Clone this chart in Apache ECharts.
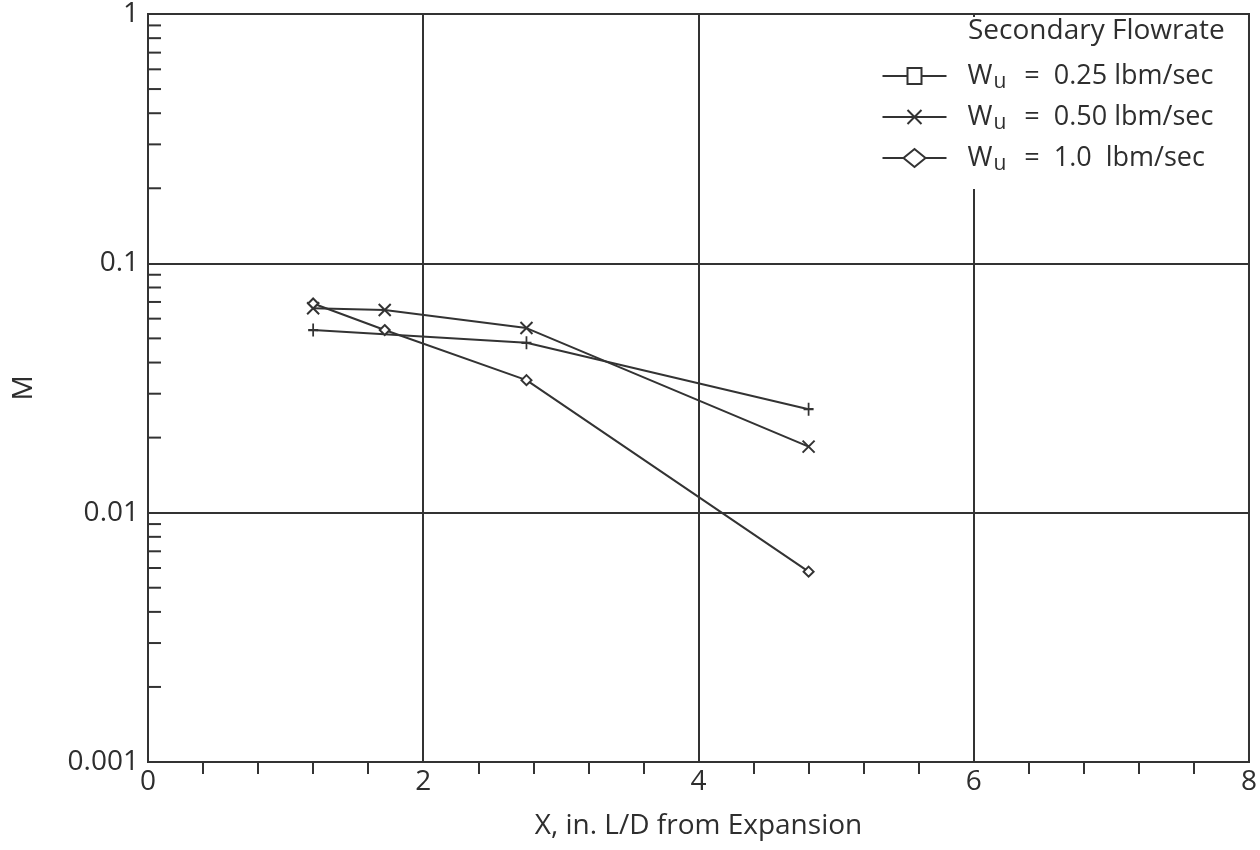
<!DOCTYPE html>
<html>
<head>
<meta charset="utf-8">
<script src="https://cdn.jsdelivr.net/npm/echarts@6/dist/echarts.min.js"></script>
<style>
html,body{margin:0;padding:0;background:#fff;}
#chart{width:1260px;height:850px;}
</style>
</head>
<body>
<div id="chart"></div>
<script>
// ---- data ----
var seriesNames = ['W_u = 0.25 lbm/sec', 'W_u = 0.50 lbm/sec', 'W_u = 1.0 lbm/sec'];
var legendValues = ['0.25', '0.50', '1.0 '];
var xW025 = [1.2, 2.75, 4.8];
var yW025 = [0.054, 0.048, 0.026];
var xW050 = [1.2, 1.72, 2.75, 4.8];
var yW050 = [0.066, 0.065, 0.055, 0.0184];
var xW100 = [1.2, 1.72, 2.75, 4.8];
var yW100 = [0.069, 0.054, 0.034, 0.0058];
var xTickLabels = ['0', '2', '4', '6', '8'];
var yTickLabels = ['0.001', '0.01', '0.1', '1'];
var yMinorTicks = [0.002,0.003,0.004,0.005,0.006,0.007,0.008,0.009,
                   0.02,0.03,0.04,0.05,0.06,0.07,0.08,0.09,
                   0.2,0.3,0.4,0.5,0.6,0.7,0.8,0.9];

function pairs(xs, ys){ return xs.map(function(x,i){ return [x, ys[i]]; }); }

var INK = '#333333';
var TXT = '#2e2e2e';
var FONT = 'Open Sans';

var chart = echarts.init(document.getElementById('chart'), null, {renderer:'canvas'});

var symPlus = 'path://M5,0 L5,12 M0,6 L10,6';
var symX = 'path://M0,0 L12,12 M12,0 L0,12';

var option = {
  backgroundColor: '#ffffff',
  animation: false,
  textStyle: {fontFamily: FONT, color: TXT},
  title: {
    text: 'Secondary Flowrate',
    left: 963, top: 12, z: 10,
    textStyle: {fontFamily: FONT, fontSize: 28, fontWeight: 'normal', color: TXT}
  },
  legend: {
    orient: 'vertical',
    left: 870, top: 17,
    padding: [41, 12, 14, 10],
    backgroundColor: '#ffffff',
    itemWidth: 64, itemHeight: 18, itemGap: 6,
    z: 5,
    data: [
      {name: seriesNames[0], icon: 'path://M0,9 L25,9 M25,1 L39,1 L39,17 L25,17 Z M39,9 L64,9 M0,0 L0,0 M0,18 L0,18',
       itemStyle: {color: 'none', borderColor: INK, borderWidth: 2}},
      {name: seriesNames[1], icon: 'path://M0,9 L64,9 M25,2 L39,16 M39,2 L25,16 M0,0 L0,0 M0,18 L0,18',
       itemStyle: {color: 'none', borderColor: INK, borderWidth: 2}},
      {name: seriesNames[2], icon: 'path://M0,9 L21,9 M21,9 L32,0 L43,9 L32,18 Z M43,9 L64,9',
       itemStyle: {color: '#fff', borderColor: INK, borderWidth: 2}}
    ],
    formatter: function(name){
      var i = seriesNames.indexOf(name);
      return '{wl|W}{u|u}{eq|=}{w|' + legendValues[i] + ' lbm/sec}';
    },
    textStyle: {
      fontFamily: FONT, color: TXT, fontSize: 27, lineHeight: 34,
      rich: {
        wl: {fontFamily: FONT, fontSize: 27, color: TXT, lineHeight: 34, padding: [0,0,0,16]},
        w: {fontFamily: FONT, fontSize: 27, color: TXT, lineHeight: 34},
        u: {fontFamily: FONT, fontSize: 21, color: TXT, lineHeight: 34, verticalAlign: 'bottom', padding: [14,0,0,1]},
        eq: {fontFamily: FONT, fontSize: 27, color: TXT, lineHeight: 34, padding: [0,14,0,18]}
      }
    }
  },
  grid: {
    left: 148, right: 11, top: 11, bottom: 88,
    show: true, borderColor: INK, borderWidth: 2, backgroundColor: 'transparent'
  },
  xAxis: {
    type: 'value', min: 0, max: 8, interval: 2,
    name: 'X, in. L/D from Expansion',
    nameLocation: 'middle', nameGap: 50,
    nameTextStyle: {fontFamily: FONT, fontSize: 28, color: TXT},
    axisLine: {show: true, lineStyle: {color: INK, width: 2}},
    axisTick: {show: false},
    minorTick: {show: true, splitNumber: 5, length: 12, lineStyle: {color: INK, width: 2}},
    minorSplitLine: {show: false},
    splitLine: {show: true, lineStyle: {color: INK, width: 2}},
    axisLabel: {
      fontFamily: FONT, fontSize: 28, color: TXT, margin: 6,
      formatter: function(v){ return xTickLabels[Math.round(v/2)]; }
    }
  },
  yAxis: {
    type: 'log', logBase: 10, min: 0.001, max: 1,
    name: 'M', nameLocation: 'middle', nameGap: 110,
    nameTextStyle: {fontFamily: FONT, fontSize: 28, color: TXT},
    axisLine: {show: true, lineStyle: {color: INK, width: 2}},
    axisTick: {show: false},
    splitLine: {show: true, lineStyle: {color: INK, width: 2}},
    axisLabel: {
      fontFamily: FONT, fontSize: 28, color: TXT, margin: 9,
      formatter: function(v){
        var idx = Math.round(Math.log10(v) + 3);
        return yTickLabels[idx];
      }
    }
  },
  series: [
    {
      name: seriesNames[0], type: 'line', data: pairs(xW025, yW025),
      symbol: symPlus, symbolSize: [10, 13],
      lineStyle: {color: INK, width: 2},
      itemStyle: {color: 'none', borderColor: INK, borderWidth: 2}, z: 3
    },
    {
      name: seriesNames[1], type: 'line', data: pairs(xW050, yW050),
      symbol: symX, symbolSize: 12,
      lineStyle: {color: INK, width: 2},
      itemStyle: {color: 'none', borderColor: INK, borderWidth: 2}, z: 3
    },
    {
      name: seriesNames[2], type: 'line', data: pairs(xW100, yW100),
      symbol: 'diamond', symbolSize: 10,
      lineStyle: {color: INK, width: 2},
      itemStyle: {color: '#fff', borderColor: INK, borderWidth: 2}, z: 4
    },
    {
      type: 'custom', silent: true, clip: false, z: 2,
      data: yMinorTicks.map(function(v){ return [0, v]; }),
      encode: {x: 0, y: 1},
      renderItem: function(params, api){
        var p = api.coord([0, api.value(1)]);
        return {
          type: 'line',
          shape: {x1: p[0], y1: p[1], x2: p[0] + 13, y2: p[1]},
          style: {stroke: INK, lineWidth: 2}
        };
      }
    }
  ]
};
chart.setOption(option);
</script>
</body>
</html>
